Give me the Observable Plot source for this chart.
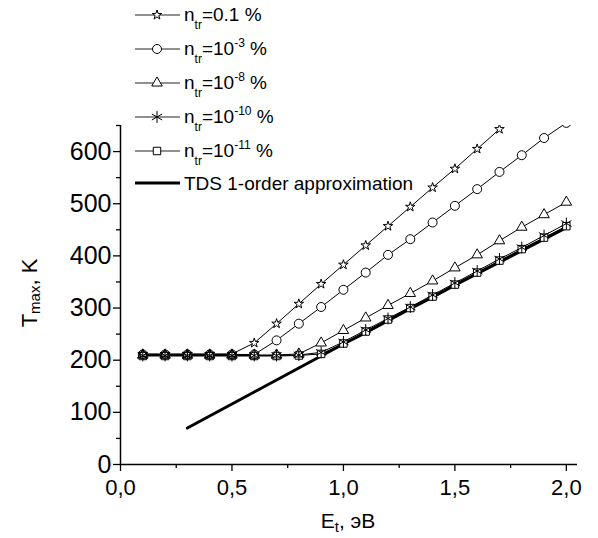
<!DOCTYPE html>
<html>
<head>
<meta charset="utf-8">
<script src="https://cdn.jsdelivr.net/npm/d3@7"></script>
<script src="https://cdn.jsdelivr.net/npm/@observablehq/plot@0.6"></script>
<style>
  body { margin: 0; background: #fff; }
  #chart { width: 598px; height: 538px; }
  #chart svg { font-family: "Liberation Sans", Arial, sans-serif; }
</style>
</head>
<body>
<div id="chart"></div>
<script>
// Trap energy E_t (eV) at which each T_max was computed
const energy = [0.1, 0.2, 0.3, 0.4, 0.5, 0.6, 0.7, 0.8, 0.9, 1.0,
                1.1, 1.2, 1.3, 1.4, 1.5, 1.6, 1.7, 1.8, 1.9, 2.0];

// Peak temperature T_max (K) for each trap concentration n_tr
const tStar     = [212, 212, 212, 212, 212, 233, 270, 308, 346, 383, 420, 457, 494, 531, 567, 605, 643];
const tCircle   = [211, 211, 211, 211, 211, 211, 238, 270, 302, 335, 368, 402, 432, 464, 496, 528, 561, 593, 626, 655];
const tTriangle = [210, 210, 210, 210, 210, 210, 210, 212, 233, 257, 281, 305, 328, 352, 377, 402, 429, 455, 479, 503];
const tAsterisk = [209, 209, 209, 209, 209, 209, 209, 210, 215, 235, 258, 280, 302, 325, 348, 371, 394, 416, 439, 462];
const tSquare   = [208, 208, 208, 208, 208, 208, 208, 209, 212, 232, 255, 278, 300, 322, 345, 368, 391, 413, 435, 457];

// First-order TDS approximation
const tdsEnergy = [0.3, 0.4, 0.5, 0.6, 0.7, 0.8, 0.9, 1.0, 1.1, 1.2, 1.3, 1.4, 1.5, 1.6, 1.7, 1.8, 1.9, 2.0];
const tdsT      = [70, 93, 116, 139, 162, 185, 208, 231, 253, 276, 299, 321, 344, 366, 388, 410, 432, 454];

// Legend text: n_tr = base^power %
const legendBase  = ["0.1", "10", "10", "10", "10"];
const legendPower = ["", "-3", "-8", "-10", "-11"];
const legendSymbols = ["star", "circle", "triangle", "asterisk", "square"];
const tdsLabel = "TDS 1-order approximation";

// Axis ticks
const xTicks = [0, 0.5, 1.0, 1.5, 2.0];
const xMinorTicks = [0.25, 0.75, 1.25, 1.75];
const yTicks = [0, 100, 200, 300, 400, 500, 600];
const yMinorTicks = [50, 150, 250, 350, 450, 550, 650];

const seriesValues = [tStar, tCircle, tTriangle, tAsterisk, tSquare];
const markerR = {star: 3, circle: 4.5, triangle: 3.9, asterisk: 5.6, square: 4.2};
const d3Symbols = {
  star: d3.symbolStar, circle: d3.symbolCircle, triangle: d3.symbolTriangle,
  asterisk: d3.symbolAsterisk, square: d3.symbolSquare
};

const rows = seriesValues.map(vals => vals.map((t, j) => ({E: energy[j], T: t})));
const tdsRows = tdsEnergy.map((e, i) => ({E: e, T: tdsT[i]}));

const commaFmt = d => d.toFixed(1).replace(".", ",");

// Markers: a white-filled layer hides the connecting lines, then an
// outline-only layer keeps every overlapping symbol visible.
const dotLayer = (fill) => rows.map((r, i) => Plot.dot(r, {
  x: "E", y: "T", symbol: () => legendSymbols[i], r: markerR[legendSymbols[i]],
  fill, stroke: fill === "white" ? "none" : "black", strokeWidth: 1, clip: true
}));

const marks = [
  Plot.line(tdsRows, {x: "E", y: "T", stroke: "black", strokeWidth: 3, clip: true}),
  ...rows.map(r => Plot.line(r, {x: "E", y: "T", stroke: "black", strokeWidth: 1, clip: true})),
  ...dotLayer("white"),
  ...dotLayer("none"),
  Plot.ruleX([0], {stroke: "black", strokeWidth: 1.5}),
  Plot.ruleY([0], {stroke: "black", strokeWidth: 1.5}),
  Plot.axisY({ticks: yTicks, tickSize: 7, tickPadding: 2, tickFormat: d => String(d),
              fontSize: 25, strokeWidth: 1.3, label: null}),
  Plot.axisY({ticks: yMinorTicks, tickSize: 4, tickFormat: null, text: null,
              strokeWidth: 1.3, label: null}),
  Plot.axisX({ticks: xTicks, tickSize: 7, tickPadding: 8, tickFormat: commaFmt,
              fontSize: 22, strokeWidth: 1.3, label: null}),
  Plot.axisX({ticks: xMinorTicks, tickSize: 4, tickFormat: null, text: null,
              strokeWidth: 1.3, label: null})
];

const svg = Plot.plot({
  width: 598,
  height: 538,
  marginLeft: 120,
  marginRight: 21,
  marginTop: 125,
  marginBottom: 74,
  x: {domain: [0, 2.05]},
  y: {domain: [0, 650]},
  symbol: {type: "identity"},
  style: {fontFamily: "Liberation Sans, Arial, sans-serif", color: "black", background: "white", overflow: "visible"},
  marks
});

document.getElementById("chart").appendChild(svg);

// Axis titles with sub-scripts and the legend, drawn into the same SVG
const root = d3.select(svg);

const yTitle = root.append("text")
  .attr("transform", "translate(37,293) rotate(-90)")
  .attr("text-anchor", "middle")
  .attr("font-size", 22)
  .attr("fill", "black");
yTitle.append("tspan").text("T");
yTitle.append("tspan").attr("font-size", 15).attr("dy", 3).text("max");
yTitle.append("tspan").attr("dy", -3).text(", K");

const xTitle = root.append("text")
  .attr("x", 348).attr("y", 528)
  .attr("text-anchor", "middle")
  .attr("font-size", 21)
  .attr("fill", "black");
xTitle.append("tspan").text("E");
xTitle.append("tspan").attr("font-size", 15).attr("dy", 4).text("t");
xTitle.append("tspan").attr("dy", -4).text(", эВ");

const legendRowY = [15, 49, 83, 117, 151, 183];
const legend = root.append("g").attr("fill", "black").attr("text-anchor", "start");

legendSymbols.forEach((sym, i) => {
  const y = legendRowY[i];
  legend.append("line").attr("x1", 135).attr("x2", 180).attr("y1", y).attr("y2", y)
    .attr("stroke", "#222").attr("stroke-width", 1);
  const r = markerR[sym];
  legend.append("path")
    .attr("transform", `translate(157,${y})`)
    .attr("d", d3.symbol(d3Symbols[sym], Math.PI * r * r)())
    .attr("fill", "white").attr("stroke", "black").attr("stroke-width", 1);
  const t = legend.append("text").attr("x", 184).attr("y", y + 6).attr("font-size", 19);
  t.append("tspan").text("n");
  t.append("tspan").attr("font-size", 12).attr("dy", 8).text("tr");
  t.append("tspan").attr("dy", -8).text("=" + legendBase[i]);
  if (legendPower[i]) {
    t.append("tspan").attr("font-size", 12).attr("dy", -8).text(legendPower[i]);
    t.append("tspan").attr("dy", 8).text(" %");
  } else {
    t.append("tspan").text(" %");
  }
});

legend.append("line").attr("x1", 135).attr("x2", 180)
  .attr("y1", legendRowY[5]).attr("y2", legendRowY[5])
  .attr("stroke", "black").attr("stroke-width", 3);
legend.append("text").attr("x", 184).attr("y", legendRowY[5] + 7)
  .attr("font-size", 19).text(tdsLabel);
</script>
</body>
</html>
